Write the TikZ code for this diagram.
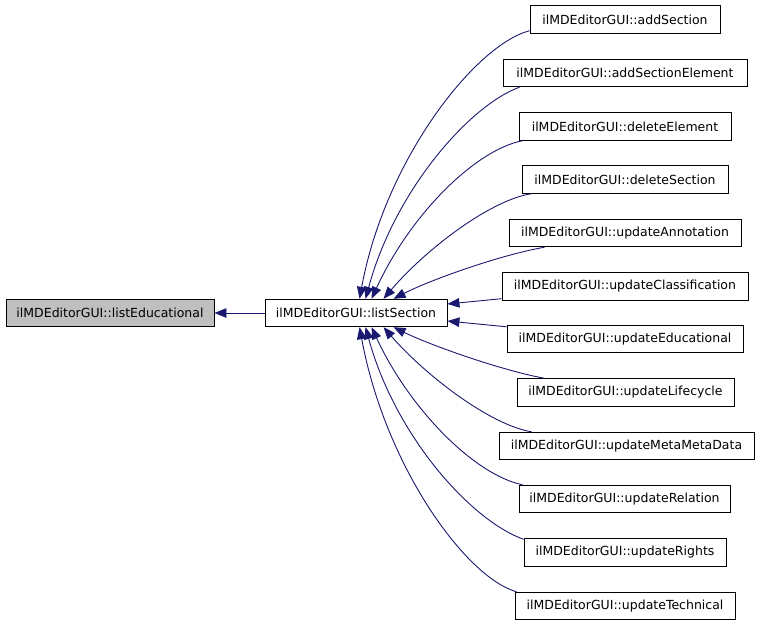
\documentclass[tikz,border=0pt]{standalone}
\usepackage{fontspec}
\setmainfont{DejaVu Sans}
\usetikzlibrary{arrows.meta}
\definecolor{edgeblue}{HTML}{191970}
\definecolor{boxgray}{HTML}{BFBFBF}
\begin{document}
\begin{tikzpicture}[x=1pt,y=-1pt,
  box/.style={draw=black, line width=0.9pt, fill=white, minimum height=27.5pt, inner sep=0pt,
              font=\fontsize{12.5}{15}\selectfont},
  edge/.style={draw=edgeblue, line width=0.9pt, {Triangle[length=12pt,width=9.5pt]}-}]
\useasboundingbox (0,0) rectangle (760,627);
\node[box, fill=boxgray, minimum width=208pt] (le) at (110,313) {ilMDEditorGUI::listEducational};
\node[box, minimum width=182pt] (ls) at (356,313) {ilMDEditorGUI::listSection};
\node[box, minimum width=190pt] (n1) at (625,19.5) {ilMDEditorGUI::addSection};
\node[box, minimum width=244pt] (n2) at (625,73) {ilMDEditorGUI::addSectionElement};
\node[box, minimum width=212pt] (n3) at (625,126.5) {ilMDEditorGUI::deleteElement};
\node[box, minimum width=206pt] (n4) at (625,179.5) {ilMDEditorGUI::deleteSection};
\node[box, minimum width=232pt] (n5) at (625,233) {ilMDEditorGUI::updateAnnotation};
\node[box, minimum width=246pt] (n6) at (625,286.5) {ilMDEditorGUI::updateClassification};
\node[box, minimum width=236pt] (n7) at (625,339) {ilMDEditorGUI::updateEducational};
\node[box, minimum width=217pt] (n8) at (625.5,392.5) {ilMDEditorGUI::updateLifecycle};
\node[box, minimum width=255pt] (n9) at (626.5,446) {ilMDEditorGUI::updateMetaMetaData};
\node[box, minimum width=211pt] (n10) at (624.5,499) {ilMDEditorGUI::updateRelation};
\node[box, minimum width=202pt] (n11) at (625,552.5) {ilMDEditorGUI::updateRights};
\node[box, minimum width=220pt] (n12) at (625,606) {ilMDEditorGUI::updateTechnical};
% left edge
\draw[edge] (le.east) -- (ls.west);
% top edges
\draw[edge] ([xshift=95pt]ls.north west) .. controls (385,160) and (475,45) .. ([yshift=3pt]n1.south west);
\draw[edge] ([xshift=101pt]ls.north west) .. controls (395,190) and (470,105) .. ([xshift=17pt]n2.south west);
\draw[edge] ([xshift=107pt]ls.north west) .. controls (410,215) and (475,150) .. ([xshift=4pt]n3.south west);
\draw[edge] ([xshift=119pt]ls.north west) .. controls (425,250) and (490,200) .. ([xshift=10pt]n4.south west);
\draw[edge] ([xshift=129pt]ls.north west) .. controls (430,280) and (500,255) .. ([xshift=36pt]n5.south west);
% side edges
\draw[edge] ([yshift=9pt]ls.east) -- ([yshift=2pt]n6.south west);
\draw[edge] ([yshift=-8pt]ls.east) -- ([yshift=-2pt]n7.north west);
% bottom edges
\draw[edge] ([xshift=129pt]ls.south west) .. controls (430,345) and (500,370) .. ([xshift=28pt]n8.north west);
\draw[edge] ([xshift=119pt]ls.south west) .. controls (425,375) and (490,425) .. ([xshift=33pt]n9.north west);
\draw[edge] ([xshift=107pt]ls.south west) .. controls (410,410) and (475,475) .. ([xshift=4pt]n10.north west);
\draw[edge] ([xshift=101pt]ls.south west) .. controls (395,435) and (470,520) .. ([yshift=-1pt]n11.north west);
\draw[edge] ([xshift=95pt]ls.south west) .. controls (385,465) and (465,577) .. ([xshift=2pt]n12.north west);
\end{tikzpicture}
\end{document}
